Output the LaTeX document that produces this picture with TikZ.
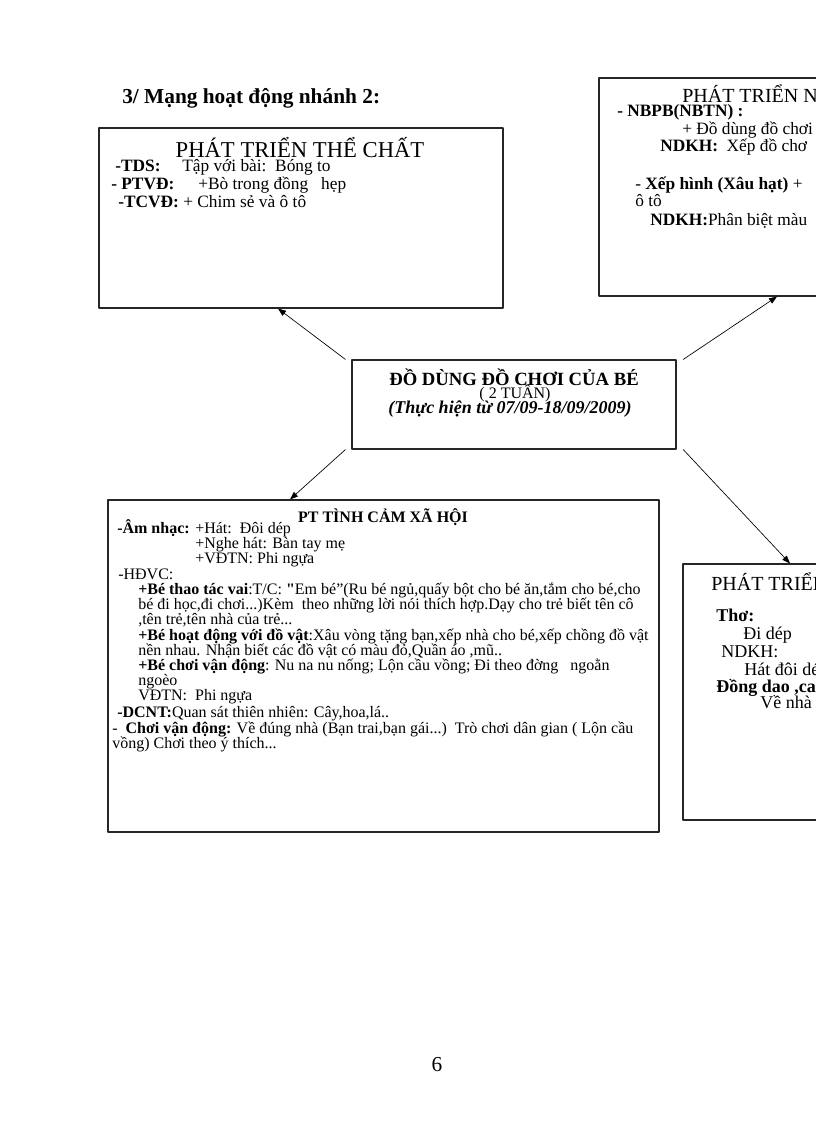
\documentclass[tikz,border=0pt]{standalone}
\usepackage{fontspec}
\setmainfont{Liberation Serif}
\usetikzlibrary{arrows.meta}
\newcommand{\fs}[1]{\fontsize{#1}{#1}\selectfont}
\tikzset{
  box/.style={draw=black!85,line width=0.8pt,inner sep=0pt},
  ln/.style={anchor=base west,inner sep=0pt},
  mid/.style={anchor=base,inner sep=0pt},
  arr/.style={-{Triangle[length=6pt,width=4.5pt]},line width=0.5pt}
}
\begin{document}
\begin{tikzpicture}[line cap=round,line join=round,x=0.75pt,y=-0.75pt]
\useasboundingbox (0,0) rectangle (816,1123);
\clip (0,0) rectangle (816,1123);
\fill[white] (0,0) rectangle (816,1123);
\node[ln,font=\fs{16}\bfseries] (head) at (122,104) {3/ Mạng hoạt động nhánh 2:};
\node[box,minimum width=303pt,minimum height=135pt] (tl) at (301,218) {};
\node[box,minimum width=315.75pt,minimum height=163.5pt] (tr) at (809.5,187) {};
\node[box,minimum width=243pt,minimum height=66.75pt] (hub) at (514,404.5) {};
\node[box,minimum width=413.25pt,minimum height=249pt] (bl) at (383.5,666) {};
\node[box,minimum width=312.75pt,minimum height=192pt] (br) at (891.5,692) {};
\draw[arr] ([xshift=-4.5pt]hub.north west) -- (278,0 |- tl.south);
\draw[arr] ([xshift=5pt]hub.north east) -- (777,0 |- tr.south);
\draw[arr] ([xshift=-4.5pt]hub.south west) -- (290,0 |- bl.north);
\draw[arr] ([xshift=5pt]hub.south east) -- (790,0 |- br.north);
\node[mid,font=\fs{17}] (tlT) at (300,158) {PHÁT TRIỂN THỂ CHẤT};
\node[ln,font=\fs{13}\bfseries] (tl1) at (115,172) {-TDS:};
\node[ln,font=\fs{13}] (tl1b) at (182,172) {Tập với bài:\ \ Bóng to};
\node[ln,font=\fs{13}\bfseries] (tl2) at (111,190) {- PTVĐ:};
\node[ln,font=\fs{13}] (tl2b) at (198,190) {+Bò trong đồng\ \ \ hẹp};
\node[ln,font=\fs{13}] (tl3) at (118,208) {\textbf{-TCVĐ:} + Chim sẻ và ô tô};
\node[ln,font=\fs{15}] (trT) at (682,103) {PHÁT TRIỂN N};
\node[ln,font=\fs{13}\bfseries] (tr1) at (617,117) {- NBPB(NBTN) :};
\node[ln,font=\fs{13}] (tr2) at (682,135) {+ Đồ dùng đồ chơi};
\node[ln,font=\fs{13}] (tr3) at (660,152) {\textbf{NDKH:}\ \ Xếp đồ chơ};
\node[ln,font=\fs{13}] (tr4) at (635,190) {- \textbf{Xếp hình (Xâu hạt)} +};
\node[ln,font=\fs{13}] (tr5) at (635,207) {ô tô};
\node[ln,font=\fs{13}] (tr6) at (650,225) {\textbf{NDKH:}Phân biệt màu};
\node[mid,font=\fs{14}\bfseries] (hubT) at (514,385) {ĐỒ DÙNG ĐỒ CHƠI CỦA BÉ};
\node[mid,font=\fs{12}] (hubW) at (515,398) {( 2 TUẦN)};
\node[mid,font=\fs{13.5}\bfseries\itshape] (hubD) at (510,413) {(Thực hiện từ 07/09-18/09/2009)};
\node[mid,font=\fs{12}\bfseries] (blT) at (383,522) {PT TÌNH CẢM XÃ HỘI};
\node[ln,font=\fs{12}\bfseries] (bl1) at (117,533) {-Âm nhạc:};
\node[ln,font=\fs{12}] (bl1b) at (195,533) {+Hát:\ \ Đôi dép};
\node[ln,font=\fs{12}] (bl2) at (195,548) {+Nghe hát: Bàn tay mẹ};
\node[ln,font=\fs{12}] (bl3) at (195,563) {+VĐTN: Phi ngựa};
\node[ln,font=\fs{12}] (bl4) at (118,579) {-HĐVC:};
\node[ln,font=\fs{12}] (bl5) at (138,594) {\textbf{+Bé thao tác vai}:T/C: \textbf{\textquotedbl}Em bé”(Ru bé ngủ,quấy bột cho bé ăn,tắm\ cho bé,cho};
\node[ln,font=\fs{12}] (bl6) at (138,609) {bé đi học,đi chơi...)Kèm\ \ theo những lời nói thích hợp.Dạy cho trẻ biết tên cô};
\node[ln,font=\fs{12}] (bl7) at (138,624) {,tên trẻ,tên nhà của trẻ...};
\node[ln,font=\fs{12}] (bl8) at (138,640) {\textbf{+Bé hoạt động với đồ vật}:Xâu vòng tặng bạn,xếp nhà cho bé,xếp chồng đồ vật};
\node[ln,font=\fs{12}] (bl9) at (138,655) {nền nhau. Nhận biết các đồ vật có màu đỏ,Quần áo ,mũ..};
\node[ln,font=\fs{12}] (bl10) at (138,670) {\textbf{+Bé chơi vận động}: Nu na nu nống; Lộn cầu vồng; Đi theo đờng\ \ \ ngoằn};
\node[ln,font=\fs{12}] (bl11) at (138,685) {ngoèo};
\node[ln,font=\fs{12}] (bl12) at (138,700) {VĐTN:\ \ Phi ngựa};
\node[ln,font=\fs{12}] (bl13) at (117,717) {\textbf{-DCNT:}Quan sát thiên nhiên: Cây,hoa,lá..};
\node[ln,font=\fs{12}] (bl14) at (112,733) {-\ \ \textbf{Chơi vận động:} Về đúng nhà (Bạn trai,bạn gái...)\ \ Trò chơi dân gian ( Lộn cầu};
\node[ln,font=\fs{12}] (bl15) at (112,748) {vồng) Chơi theo ý thích...};
\node[ln,font=\fs{15}] (brT) at (711,590) {PHÁT TRIỂN};
\node[ln,font=\fs{13.5}\bfseries] (br1) at (716,621) {Thơ:};
\node[ln,font=\fs{13.5}] (br2) at (743,639) {Đi dép};
\node[ln,font=\fs{13.5}] (br3) at (721,657) {NDKH:};
\node[ln,font=\fs{13.5}] (br4) at (744,675) {Hát đôi dép};
\node[ln,font=\fs{13.5}\bfseries] (br5) at (716,692) {Đồng dao ,ca};
\node[ln,font=\fs{13.5}] (br6) at (760,708) {Về nhà};
\node[mid,font=\fs{16}] (page) at (437,1071) {6};
\end{tikzpicture}
\end{document}
